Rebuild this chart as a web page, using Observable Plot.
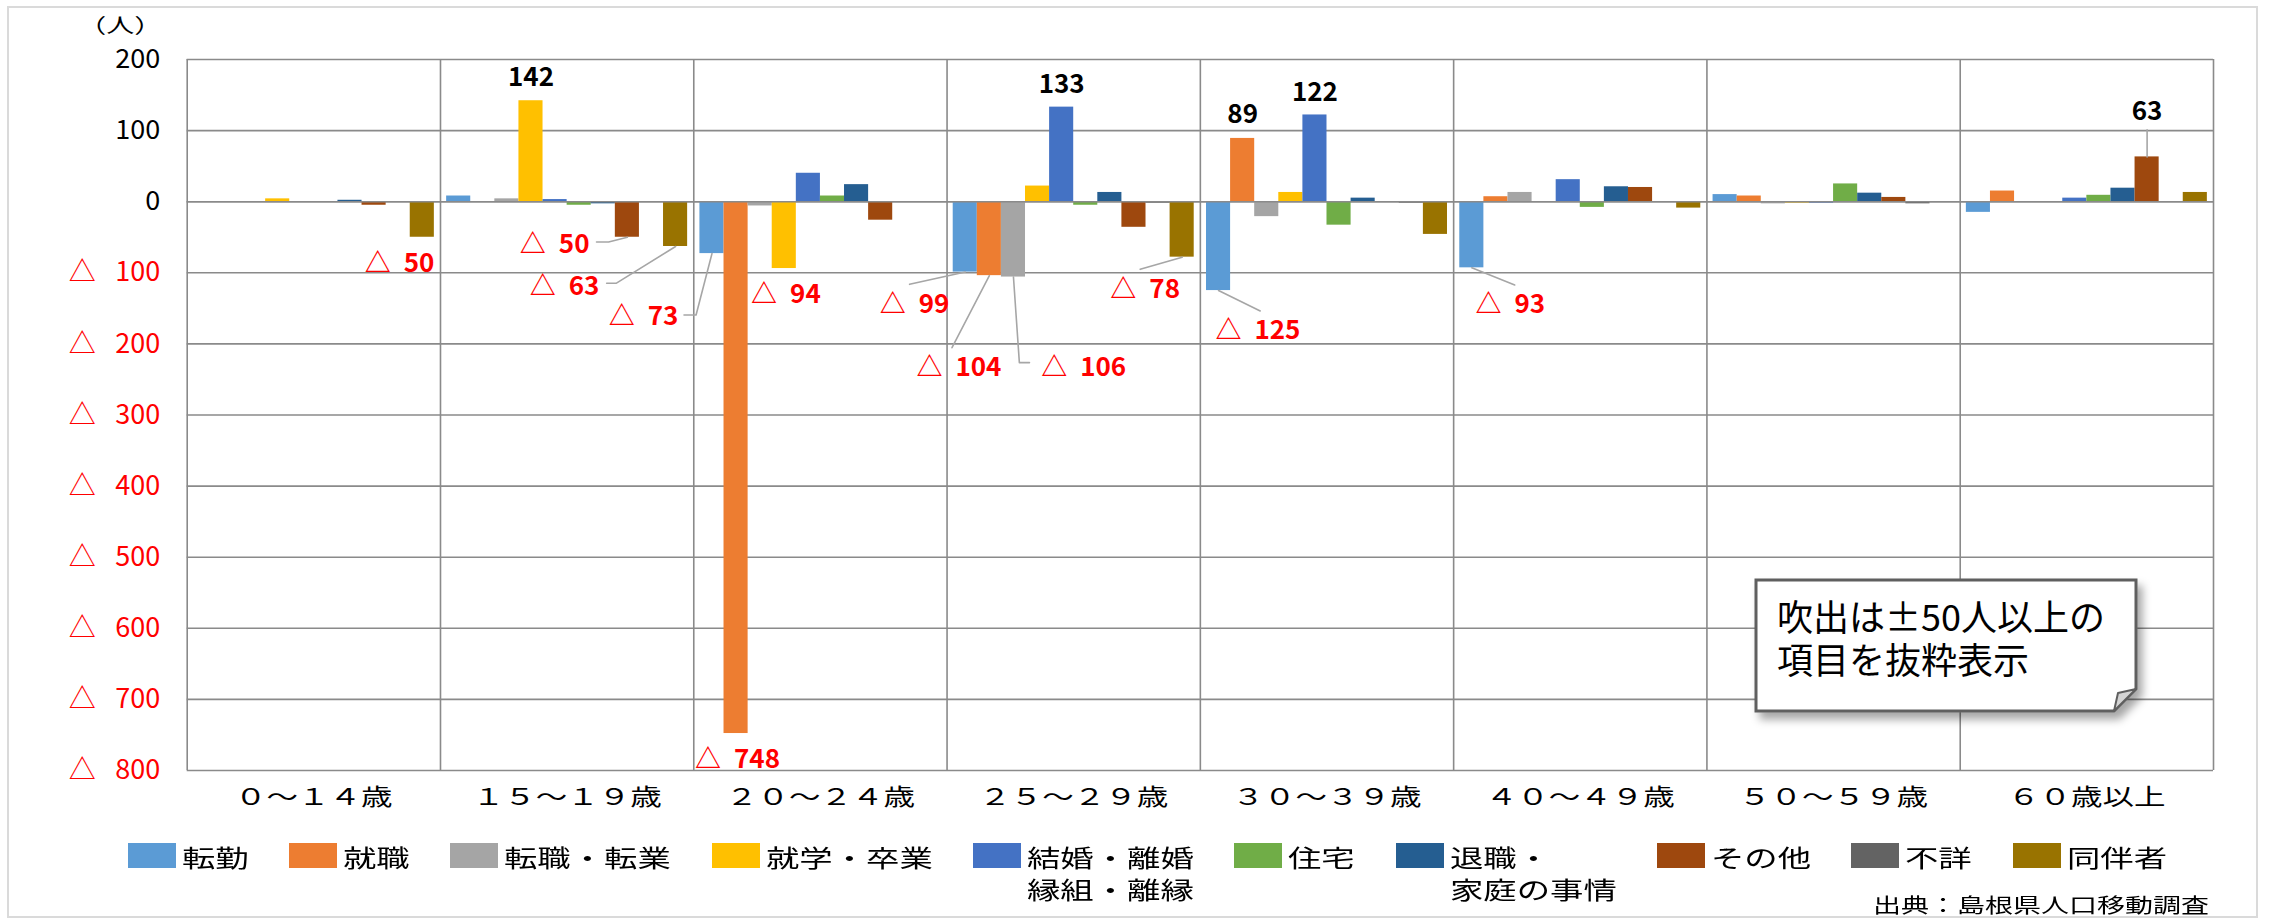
<!DOCTYPE html>
<html><head><meta charset="utf-8">
<script src="https://cdn.jsdelivr.net/npm/d3@7"></script>
<script src="https://cdn.jsdelivr.net/npm/@observablehq/plot@0.6"></script>
<style>
body{margin:0;background:#fff;}
#wrap{position:relative;width:2274px;height:923px;overflow:hidden;font-family:"Noto Sans CJK JP","Noto Sans",sans-serif;background:#fff;}
#border{position:absolute;left:7px;top:6px;width:2251px;height:912px;border:2px solid #dadada;box-sizing:border-box;}
#chart{position:absolute;left:0;top:0;}
#legend{position:absolute;left:128px;top:841px;display:flex;gap:40.5px;align-items:flex-start;}
.item{display:flex;align-items:flex-start;}
.sw{width:48px;height:25px;margin-top:2px;margin-right:6px;flex:none;}
.lbl{font-size:24px;line-height:32px;color:#000;}
.lbl span{display:block;transform:scaleX(1.39);transform-origin:0 0;white-space:nowrap;}
#source{position:absolute;right:65px;top:892px;font-size:20px;line-height:26px;color:#000;transform:scaleX(1.4);transform-origin:100% 0;white-space:nowrap;}
#note{position:absolute;left:0;top:0;}
.notetext{position:absolute;left:1777px;font-size:36px;line-height:43px;height:43px;color:#000;white-space:nowrap;}
</style></head>
<body>
<div id="wrap">
  <div id="border"></div>
  <div id="chart"></div>
  <svg id="note" width="2274" height="923" style="pointer-events:none">
    <defs><filter id="sh" x="-10%" y="-10%" width="130%" height="140%"><feDropShadow dx="5" dy="7" stdDeviation="4" flood-color="#000" flood-opacity="0.35"/></filter></defs>
    <path d="M1756,580 H2136 V689 L2114,711 H1756 Z" fill="#fff" stroke="#5f5f5f" stroke-width="3" filter="url(#sh)"/>
    <path d="M2114,711 L2118,693 L2136,689 Z" fill="#d4d4d4" stroke="#5f5f5f" stroke-width="2" stroke-linejoin="round"/>
  </svg>
  <div class="notetext" style="top:594px">吹出は±50人以上の</div>
  <div class="notetext" style="top:637px">項目を抜粋表示</div>
  <div id="legend"></div>
  <div id="source">出典：島根県人口移動調査</div>
</div>
<script>
// ---- data ----
const ageGroups = ["０～１４歳","１５～１９歳","２０～２４歳","２５～２９歳","３０～３９歳","４０～４９歳","５０～５９歳","６０歳以上"];
const categories = ["転勤","就職","転職・転業","就学・卒業","結婚・離婚\n縁組・離縁","住宅","退職・\n家庭の事情","その他","不詳","同伴者"];
const tenkin   = [0, 8, -73, -99, -125, -93, 10, -15];
const shushoku = [0, 0, -748, -104, 89, 7, 8, 15];
const tenshoku = [0, 4, -6, -106, -21, 13, -3, 0];
const shugaku  = [4, 142, -94, 22, 13, 0, -2, 0];
const kekkon   = [0, 3, 40, 133, 122, 31, -2, 5];
const jutaku   = [0, -5, 8, -5, -33, -8, 25, 9];
const taishoku = [2, -3, 24, 13, 5, 21, 12, 19];
const sonota   = [-5, -50, -26, -36, 0, 20, 6, 63];
const fusho    = [0, 0, 0, -2, -2, 0, -3, 0];
const dohan    = [-50, -63, 0, -78, -46, -9, 0, 13];
const yTicks = [200, 100, 0, -100, -200, -300, -400, -500, -600, -700, -800];
const unitLabel = "（人）";

// ---- styles ----
const colors = ["#5B9BD5","#ED7D31","#A5A5A5","#FFC000","#4472C4","#70AD47","#255E91","#9E480E","#636363","#997300"];
const series = [tenkin, shushoku, tenshoku, shugaku, kekkon, jutaku, taishoku, sonota, fusho, dohan];

// callout layout: which bar, text anchor, label offset (slots from bar centre, value units), leader bend points
const callouts = [
  {g:0, c:9, anchor:"end",    tx: 0.50, ty:-87},
  {g:1, c:7, anchor:"end",    tx:-1.57, ty:-60,  leader:[[-0.78,-56.7],[-1.28,-56.7]]},
  {g:1, c:9, anchor:"end",    tx:-3.16, ty:-119, leader:[[-2.47,-114.8],[-2.86,-114.8]]},
  {g:2, c:0, anchor:"end",    tx:-1.39, ty:-162, leader:[[-0.66,-159.4],[-1.16,-159.4]]},
  {g:2, c:1, anchor:"middle", tx: 0.06, ty:-785},
  {g:2, c:3, anchor:"middle", tx: 0.07, ty:-131},
  {g:3, c:0, anchor:"end",    tx:-0.66, ty:-145, leader:[[-2.31,-116.2]]},
  {g:3, c:1, anchor:"end",    tx: 0.50, ty:-234, leader:[[-1.55,-205.3]]},
  {g:3, c:2, anchor:"start",  tx: 1.15, ty:-234, leader:[[0.245,-226.4],[0.664,-226.4]]},
  {g:3, c:9, anchor:"end",    tx:-0.09, ty:-124, leader:[[-1.74,-95.1]]},
  {g:4, c:0, anchor:"start",  tx:-0.13, ty:-182, leader:[[1.73,-153.7]]},
  {g:5, c:0, anchor:"start",  tx: 0.15, ty:-145, leader:[[1.78,-117.2]]},
  {g:1, c:3, anchor:"middle", tx:0, ty:174},
  {g:3, c:4, anchor:"middle", tx:0, ty:164},
  {g:4, c:1, anchor:"middle", tx:0, ty:122},
  {g:4, c:4, anchor:"middle", tx:0, ty:154},
  {g:7, c:7, anchor:"middle", tx:0, ty:126, leader:[[0,101]]}
];

const PAD = 0.255;                      // outer padding of each group, in bar widths
const G = categories.length + 2 * PAD;  // group width in bar widths
const slotX = (g, c) => g * G + PAD + c;

const rows = [];
series.forEach((vals, ci) => vals.forEach((v, gi) => rows.push({gi, ci, group: ageGroups[gi], cat: categories[ci], value: v})));

const calloutRows = callouts.map((d, i) => {
  const value = series[d.c][d.g];
  const cx = slotX(d.g, d.c) + 0.5;
  return {...d, id: i, value, cx, x: cx + d.tx, y: d.ty,
          text: value < 0 ? "△\u2002" + Math.abs(value) : String(value)};
});
const leaderRows = [];
calloutRows.filter(d => d.leader).forEach(d => {
  leaderRows.push({id: d.id, x: d.cx, y: d.value});
  d.leader.forEach(([dx, y]) => leaderRows.push({id: d.id, x: d.cx + dx, y}));
});

const font = '"Noto Sans CJK JP", "Noto Sans", sans-serif';
const gridColor = "#8a8a8a";
const labelMarks = [];
for (const neg of [true, false]) for (const anchor of ["start", "middle", "end"]) {
  const sub = calloutRows.filter(d => (d.value < 0) === neg && d.anchor === anchor);
  if (sub.length) labelMarks.push(Plot.text(sub, {x: "x", y: "y", text: "text", textAnchor: anchor,
    fill: neg ? "#ff0000" : "#000", fontSize: 26, fontWeight: "bold", fontFamily: font}));
}

const fmtTick = v => v < 0 ? "△\u2002\u00a0" + Math.abs(v) : String(v);

const plot = Plot.plot({
  width: 2274, height: 830,
  marginLeft: 186.7, marginRight: 61, marginTop: 59, marginBottom: 60,
  style: {fontFamily: font, background: "transparent", overflow: "visible"},
  x: {domain: [0, ageGroups.length * G], axis: null},
  y: {domain: [-800, 200], axis: null},
  color: {domain: categories, range: colors},
  marks: [
    Plot.ruleY(yTicks, {stroke: gridColor, strokeWidth: 1.6}),
    Plot.ruleX(d3.range(ageGroups.length + 1).map(i => i * G), {stroke: gridColor, strokeWidth: 1.6}),
    Plot.rect(rows, {x1: d => slotX(d.gi, d.ci), x2: d => slotX(d.gi, d.ci) + 1, y1: 0, y2: "value", fill: "cat"}),
    Plot.ruleY([0], {stroke: gridColor, strokeWidth: 1.6}),
    Plot.line(leaderRows, {x: "x", y: "y", z: "id", stroke: "#a6a6a6", strokeWidth: 1.6}),
    ...labelMarks,
    Plot.text(yTicks.filter(v => v >= 0), {y: d => d, text: fmtTick, frameAnchor: "left", dx: -27, textAnchor: "end", fill: "#000", fontSize: 27, fontFamily: font}),
    Plot.text(yTicks.filter(v => v < 0), {y: d => d, text: fmtTick, frameAnchor: "left", dx: -27, textAnchor: "end", fill: "#ff0000", fontSize: 27, fontFamily: font}),
    Plot.text(ageGroups, {x: (d, i) => (i + 0.5) * G, text: d => d, frameAnchor: "bottom", dy: 34, fontSize: 23, fill: "#000", fontFamily: font}),
    Plot.text([unitLabel], {text: d => d, frameAnchor: "top-left", textAnchor: "middle", lineAnchor: "middle", dx: -67, dy: -27, fontSize: 20, fill: "#000", fontFamily: font})
  ]
});
document.getElementById("chart").appendChild(plot);

// Horizontally widen the CJK labels (the reference's Japanese text is set wide)
function stretchText(match, s) {
  plot.querySelectorAll("text").forEach(t => {
    if (!match(t.textContent)) return;
    const tr = t.getAttribute("transform");
    const x = t.getAttribute("x"), y = t.getAttribute("y");
    let base = tr || "";
    if (x != null || y != null) {
      base = `translate(${+x || 0},${+y || 0}) ` + base;
      t.removeAttribute("x"); t.removeAttribute("y");
    }
    t.setAttribute("transform", base + ` scale(${s},1)`);
  });
}
stretchText(s => ageGroups.includes(s), 1.37);
stretchText(s => s === unitLabel, 1.4);

// legend
const legend = d3.select("#legend");
categories.forEach((c, i) => {
  const item = legend.append("div").attr("class", "item");
  item.append("div").attr("class", "sw").style("background", colors[i]);
  const lbl = item.append("div").attr("class", "lbl");
  c.split("\n").forEach(line => lbl.append("span").text(line));
});
document.querySelectorAll(".lbl").forEach(l => {
  let w = 0;
  l.querySelectorAll("span").forEach(s => { w = Math.max(w, s.getBoundingClientRect().width); });
  l.style.width = w + "px";
});
</script>
</body></html>
